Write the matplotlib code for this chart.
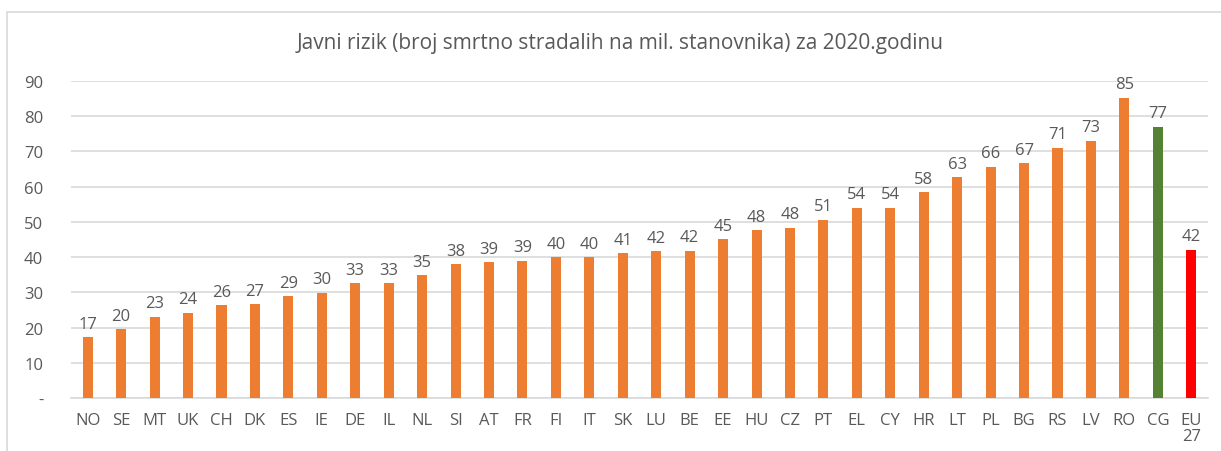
"""Road fatality rate per million inhabitants, 2020 (bar chart)."""

import matplotlib.pyplot as plt
from matplotlib.patches import Rectangle

countries = ["NO", "SE", "MT", "UK", "CH", "DK", "ES", "IE", "DE", "IL", "NL",
             "SI", "AT", "FR", "FI", "IT", "SK", "LU", "BE", "EE", "HU", "CZ",
             "PT", "EL", "CY", "HR", "LT", "PL", "BG", "RS", "LV", "RO", "CG",
             "EU\n27"]
values = [17.3, 19.6, 23.1, 24.3, 26.4, 26.6, 28.9, 29.9, 32.6, 32.6, 34.8,
          38.0, 38.6, 38.9, 39.9, 39.9, 41.1, 41.6, 41.8, 45.1, 47.6, 48.3,
          50.6, 54.0, 54.0, 58.4, 62.6, 65.6, 66.6, 71.0, 72.9, 85.1, 76.9,
          42.1]

ORANGE = "#ED7D31"
GREEN = "#548235"
RED = "#FF0000"
TEXT = "#595959"
GRID = "#D9D9D9"

colors = [ORANGE] * len(values)
colors[countries.index("CG")] = GREEN
colors[-1] = RED

plt.rcParams["font.family"] = ["Open Sans", "DejaVu Sans"]

fig = plt.figure(figsize=(12.21, 4.52), dpi=100)
ax = fig.add_axes([71 / 1221, 1 - 399.3 / 452, 1137 / 1221, (399.3 - 81.7) / 452])

x = range(len(values))
bars = ax.bar(x, values, width=0.3, color=colors, zorder=3)
for rect, v in zip(bars, values):
    ax.annotate(f"{v:.0f}", (rect.get_x() + rect.get_width() / 2, v),
                xytext=(0, 4), textcoords="offset points", ha="center",
                va="bottom", fontsize=12, color=TEXT, annotation_clip=False)

ax.set_xlim(-0.5, len(values) - 0.5)
ax.set_ylim(0, 90)
ax.set_yticks(range(0, 91, 10), ["-"] + [str(t) for t in range(10, 91, 10)])
ax.set_xticks(list(x), countries)
ax.tick_params(axis="y", length=0, pad=20, labelsize=12, labelcolor=TEXT)
ax.tick_params(axis="x", length=0, pad=10, labelsize=12, labelcolor=TEXT)
for lbl in ax.get_xticklabels():
    lbl.set_linespacing(1.0)

ax.grid(axis="y", color=GRID, linewidth=1.2, zorder=0)
for side in ["top", "right", "left"]:
    ax.spines[side].set_visible(False)
ax.spines["bottom"].set_color(GRID)
ax.spines["bottom"].set_linewidth(1.2)

fig.text(620 / 1221, 1 - 43 / 452,
         "Javni rizik (broj smrtno stradalih na mil. stanovnika) za 2020.godinu",
         ha="center", va="center", fontsize=15, color=TEXT)

# outer chart border (Excel chart area)
fig.patches.append(Rectangle((7 / 1221, -0.1), 1.2, 1 - 13 / 452 + 0.1,
                             transform=fig.transFigure, fill=False,
                             edgecolor="#D9D9D9", linewidth=1.2))

fig.savefig("out.png", dpi=100)
